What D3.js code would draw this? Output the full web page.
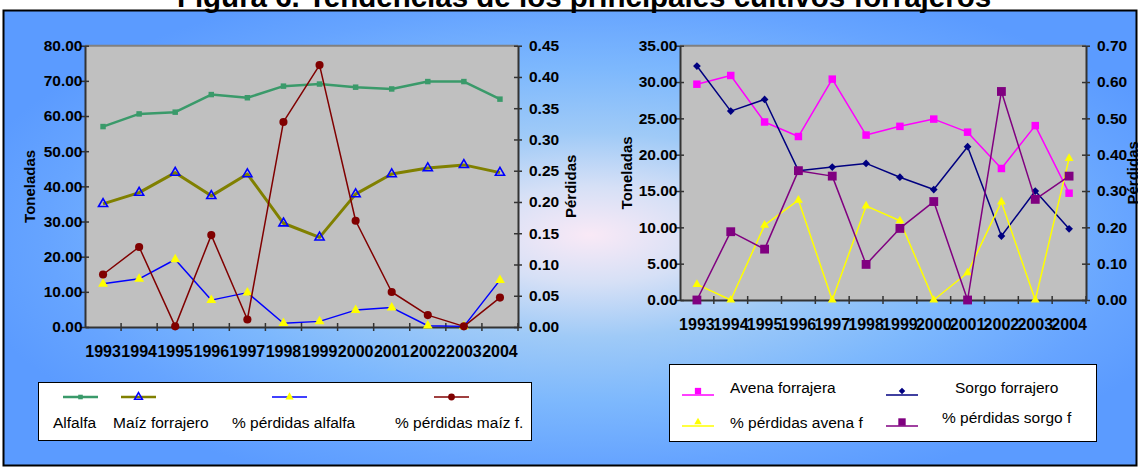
<!DOCTYPE html>
<html>
<head>
<meta charset="utf-8">
<script src="https://cdn.jsdelivr.net/npm/d3@7"></script>
<style>
  html, body { margin: 0; padding: 0; background: #fff; }
  svg { display: block; font-family: "Liberation Sans", Arial, sans-serif; }
</style>
</head>
<body>
<svg id="chart" width="1138" height="467"></svg>
<script>
// Years shown on both charts
const years = ["1993", "1994", "1995", "1996", "1997", "1998", "1999", "2000", "2001", "2002", "2003", "2004"];

// Left chart: production (t) and losses (fraction)
const alfalfa     = [57.0, 60.6, 61.1, 66.1, 65.2, 68.5, 69.1, 68.2, 67.7, 69.8, 69.8, 64.8];
const maiz        = [35.0, 38.2, 43.9, 37.3, 43.5, 29.5, 25.5, 37.8, 43.5, 45.2, 46.1, 43.9];
const perdAlfalfa = [0.069, 0.077, 0.108, 0.043, 0.055, 0.006, 0.009, 0.027, 0.031, 0.002, 0.001, 0.075];
const perdMaiz    = [0.084, 0.128, 0.001, 0.147, 0.012, 0.328, 0.419, 0.170, 0.056, 0.019, 0.001, 0.047];

// Right chart: production (t) and losses (fraction)
const avena       = [29.7, 30.9, 24.5, 22.5, 30.4, 22.7, 23.9, 24.9, 23.1, 18.1, 24.0, 14.7];
const sorgo       = [32.2, 26.0, 27.6, 17.8, 18.3, 18.8, 16.9, 15.2, 21.1, 8.8, 15.0, 9.8];
const perdAvena   = [0.043, 0.0, 0.206, 0.275, 0.0, 0.259, 0.218, 0.0, 0.075, 0.270, 0.0, 0.390];
const perdSorgo   = [0.0, 0.188, 0.140, 0.356, 0.341, 0.098, 0.197, 0.271, 0.0, 0.574, 0.277, 0.341];

// Axis tick values
const leftTicksA  = [0, 10, 20, 30, 40, 50, 60, 70, 80];
const rightTicksA = [0, 0.05, 0.10, 0.15, 0.20, 0.25, 0.30, 0.35, 0.40, 0.45];
const leftTicksB  = [0, 5, 10, 15, 20, 25, 30, 35];
const rightTicksB = [0, 0.10, 0.20, 0.30, 0.40, 0.50, 0.60, 0.70];

const title = "Figura 6. Tendencias de los principales cultivos forrajeros";
const FONT = '"Liberation Sans", Arial, sans-serif';

const svg = d3.select("#chart");
const defs = svg.append("defs");

// Background: elliptical blue gradient with a pale centre
const grad = defs.append("radialGradient")
  .attr("id", "bg")
  .attr("gradientUnits", "userSpaceOnUse")
  .attr("cx", 590).attr("cy", 235).attr("r", 640)
  .attr("gradientTransform", "translate(590,235) scale(1,0.42) translate(-590,-235)");
[[0, "#f9e9f6"], [0.18, "#d6e0f6"], [0.38, "#9fcaf7"], [0.62, "#7db8fd"], [0.85, "#66a4ff"], [1, "#5b9bff"]]
  .forEach(([o, c]) => grad.append("stop").attr("offset", o).attr("stop-color", c));

svg.append("rect")
  .attr("x", 3.5).attr("y", 10.5).attr("width", 1133).attr("height", 455)
  .attr("fill", "url(#bg)").attr("stroke", "#000").attr("stroke-width", 2);

svg.append("text")
  .attr("x", 584).attr("y", 6.5)
  .attr("text-anchor", "middle")
  .attr("font-size", 29.5).attr("font-weight", "bold")
  .text(title);

function drawChart(cfg) {
  const { x0, x1, y0, y1 } = cfg;
  const g = svg.append("g");

  const x = d3.scaleBand().domain(years).range([x0, x1]);
  const yL = d3.scaleLinear().domain(cfg.leftDomain).range([y1, y0]);
  const yR = d3.scaleLinear().domain(cfg.rightDomain).range([y1, y0]);
  const cx = d => x(d) + x.bandwidth() / 2;

  // Plot area
  g.append("rect")
    .attr("x", x0).attr("y", y0).attr("width", x1 - x0).attr("height", y1 - y0)
    .attr("fill", "#c0c0c0");
  g.append("line")
    .attr("x1", x0).attr("x2", x1).attr("y1", y0).attr("y2", y0)
    .attr("stroke", "#808080").attr("stroke-width", 2);

  const styleAxis = (sel) => {
    sel.select(".domain").attr("stroke", "#333").attr("stroke-width", 2);
    sel.selectAll(".tick line").attr("stroke", "#333").attr("stroke-width", 1.5);
    sel.selectAll(".tick text")
      .attr("fill", "#000").attr("font-family", FONT)
      .attr("font-size", 15.5).attr("font-weight", "bold");
  };

  // Left axis
  const axL = g.append("g").attr("transform", `translate(${x0},0)`)
    .call(d3.axisLeft(yL).tickValues(cfg.leftTicks).tickFormat(d3.format(".2f"))
      .tickSizeInner(4).tickSizeOuter(0).tickPadding(0));
  styleAxis(axL);
  axL.selectAll(".tick line").attr("x1", 4);
  axL.selectAll(".tick text").attr("x", -2.5);

  // Right axis
  const axR = g.append("g").attr("transform", `translate(${x1},0)`)
    .call(d3.axisRight(yR).tickValues(cfg.rightTicks).tickFormat(d3.format(".2f"))
      .tickSizeInner(4).tickSizeOuter(0).tickPadding(0));
  styleAxis(axR);
  axR.selectAll(".tick line").attr("x1", -4);
  axR.selectAll(".tick text").attr("x", 11);

  // Bottom axis: labels at category centres, ticks at category boundaries
  const axB = g.append("g").attr("transform", `translate(0,${y1})`)
    .call(d3.axisBottom(x).tickSize(0).tickPadding(0));
  styleAxis(axB);
  axB.selectAll(".tick text").attr("font-size", 16).attr("y", 24).attr("dy", "0.35em");
  const bounds = years.slice(1).map(d => x(d)).concat([x.range()[1]]);
  axB.selectAll(".bound").data(bounds).join("line")
    .attr("class", "bound")
    .attr("x1", d => d).attr("x2", d => d).attr("y1", -4).attr("y2", 4)
    .attr("stroke", "#333").attr("stroke-width", 1.5);

  // Axis titles
  g.append("text")
    .attr("transform", `translate(${cfg.leftTitleX},${(y0 + y1) / 2}) rotate(-90)`)
    .attr("text-anchor", "middle").attr("dy", "0.35em")
    .attr("font-size", 15).attr("font-weight", "bold")
    .text("Toneladas");
  g.append("text")
    .attr("transform", `translate(${cfg.rightTitleX},${(y0 + y1) / 2}) rotate(-90)`)
    .attr("text-anchor", "middle").attr("dy", "0.35em")
    .attr("font-size", 15).attr("font-weight", "bold")
    .text("Pérdidas");

  // Series
  cfg.series.forEach(s => {
    const y = s.axis === "left" ? yL : yR;
    const line = d3.line().x((d, i) => cx(years[i])).y(d => y(d));
    g.append("path").datum(s.values)
      .attr("d", line).attr("fill", "none")
      .attr("stroke", s.color).attr("stroke-width", s.width)
      .attr("stroke-linejoin", "round");
    g.selectAll(null).data(s.values).join("path")
      .attr("transform", (d, i) => `translate(${cx(years[i])},${y(d)}) rotate(${s.rotate || 0})`)
      .attr("d", d3.symbol().type(s.symbol).size(s.size)())
      .attr("fill", s.fill).attr("stroke", s.stroke || "none")
      .attr("stroke-width", s.strokeWidth || 0);
  });
}

const seriesA = [
  { name: "Alfalfa", values: alfalfa, axis: "left", color: "#3a9a6a", width: 2.5,
    symbol: d3.symbolSquare, size: 30, fill: "#3a9a6a" },
  { name: "Maíz forrajero", values: maiz, axis: "left", color: "#808000", width: 3,
    symbol: d3.symbolTriangle, size: 36, fill: "none", stroke: "#0000ff", strokeWidth: 1.6 },
  { name: "% pérdidas alfalfa", values: perdAlfalfa, axis: "right", color: "#0000ff", width: 1.5,
    symbol: d3.symbolTriangle, size: 42, fill: "#ffff00" },
  { name: "% pérdidas maíz f.", values: perdMaiz, axis: "right", color: "#800000", width: 1.5,
    symbol: d3.symbolCircle, size: 52, fill: "#800000" }
];

const seriesB = [
  { name: "Avena forrajera", values: avena, axis: "left", color: "#ff00ff", width: 1.5,
    symbol: d3.symbolSquare, size: 56, fill: "#ff00ff" },
  { name: "Sorgo forrajero", values: sorgo, axis: "left", color: "#000080", width: 1.5,
    symbol: d3.symbolSquare, size: 30, fill: "#000080", rotate: 45 },
  { name: "% pérdidas avena f", values: perdAvena, axis: "right", color: "#ffff00", width: 1.5,
    symbol: d3.symbolTriangle, size: 34, fill: "#ffff00" },
  { name: "% pérdidas sorgo f", values: perdSorgo, axis: "right", color: "#800080", width: 1.5,
    symbol: d3.symbolSquare, size: 78, fill: "#800080" }
];

drawChart({ x0: 85, x1: 518, y0: 45.7, y1: 327,
  leftDomain: [0, 80], rightDomain: [0, 0.45],
  leftTicks: leftTicksA, rightTicks: rightTicksA,
  leftTitleX: 30, rightTitleX: 571, series: seriesA });

drawChart({ x0: 680, x1: 1086, y0: 45.7, y1: 300,
  leftDomain: [0, 35], rightDomain: [0, 0.70],
  leftTicks: leftTicksB, rightTicks: rightTicksB,
  leftTitleX: 627, rightTitleX: 1133, series: seriesB });

// Legends
function legendSample(g, s, x, y, len, markerDy) {
  g.append("line").attr("x1", x).attr("x2", x + len).attr("y1", y).attr("y2", y)
    .attr("stroke", s.color).attr("stroke-width", Math.min(s.width, 2.5));
  g.append("path")
    .attr("transform", `translate(${x + len / 2},${y + markerDy}) rotate(${s.rotate || 0})`)
    .attr("d", d3.symbol().type(s.symbol).size(s.size * 0.7)())
    .attr("fill", s.fill).attr("stroke", s.stroke || "none")
    .attr("stroke-width", s.strokeWidth || 0);
}
function legendLabel(g, text, x, y, anchor) {
  g.append("text").attr("x", x).attr("y", y).attr("dy", "0.35em")
    .attr("text-anchor", anchor || "start")
    .attr("font-size", 15.5).text(text);
}

const legA = svg.append("g");
legA.append("rect").attr("x", 38.5).attr("y", 382.5).attr("width", 493).attr("height", 58)
  .attr("fill", "#fff").attr("stroke", "#000").attr("stroke-width", 1);
const sampleXA = [63, 121, 272, 434];
const labelXA = [53, 113, 232, 395];
seriesA.forEach((s, i) => {
  legendSample(legA, s, sampleXA[i], 397, 35, 0);
  legendLabel(legA, s.name, labelXA[i], 423);
});

const legB = svg.append("g");
legB.append("rect").attr("x", 669.5).attr("y", 364.5).attr("width", 427).attr("height", 77)
  .attr("fill", "#fff").attr("stroke", "#000").attr("stroke-width", 1);
const sampleXB = [682, 886, 682, 886];
const sampleYB = [395, 395, 426, 426];
const labelXB = [730, 955, 730, 942];
const labelYB = [388, 388, 423, 418];
seriesB.forEach((s, i) => {
  legendSample(legB, s, sampleXB[i], sampleYB[i], 32, -4);
  legendLabel(legB, s.name, labelXB[i], labelYB[i]);
});
</script>
</body>
</html>
